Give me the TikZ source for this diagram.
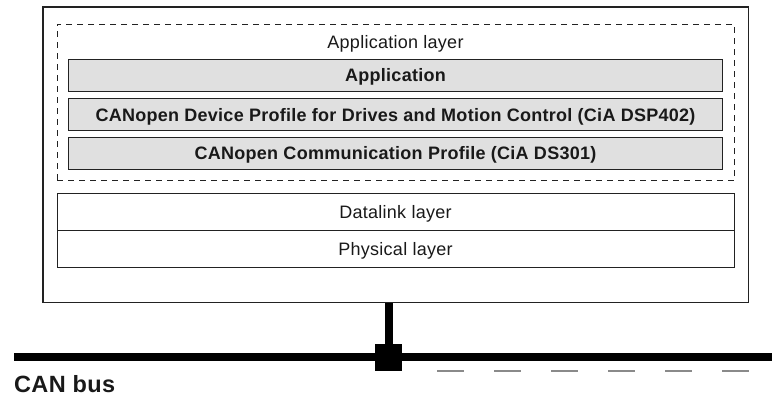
\documentclass[tikz,border=0pt]{standalone}
\usepackage{fontspec}
\setmainfont{Liberation Sans}[LetterSpace=1.5]
\definecolor{boxfill}{HTML}{E0E0E0}
\definecolor{linec}{HTML}{222222}
\definecolor{dashc}{HTML}{8A8A8A}
\begin{document}
\begin{tikzpicture}[x=1pt,y=-1pt,
  txt/.style={font=\fontsize{18pt}{21pt}\selectfont, text height=12.9pt, text depth=0pt, inner sep=0pt, text=black!90},
  outerbox/.style={draw=linec, line width=1.2pt, minimum width=705.5pt, minimum height=295.5pt, inner sep=0pt},
  groupbox/.style={draw=linec, line width=0.9pt, dash pattern=on 6pt off 5pt, minimum width=677.5pt, minimum height=156pt, inner sep=0pt},
  graybox/.style={txt, draw=linec, line width=1pt, fill=boxfill, minimum width=654pt, minimum height=32pt, font=\fontsize{18pt}{21pt}\selectfont\bfseries},
  layerbox/.style={txt, draw=linec, line width=1pt, minimum width=677pt, minimum height=36.8pt},
  bus/.style={line width=8pt, black},
  busdash/.style={line width=1.5pt, dashc}
]
\useasboundingbox (0,0) rectangle (772,396);
\node[outerbox] (outer) at (395.75,154.75) {};
\node[groupbox] (group) at (395.75,102.5) {};
\node[txt] (applayer) at (395.5,41.8) {Application layer};
\node[graybox] (app) at (395.5,75.5) {Application};
\node[graybox] (dsp) at (395.5,114.75) {CANopen Device Profile for Drives and Motion Control (CiA DSP402)};
\node[graybox] (ds) at (395.5,153.5) {CANopen Communication Profile (CiA DS301)};
\node[layerbox] (dl) at (395.5,211.8) {Datalink layer};
\node[layerbox] (ph) at (395.5,248.6) {Physical layer};

\coordinate (busL) at (14,357);
\coordinate (busR) at (772,357);
\node[fill=black, minimum size=27pt, inner sep=0pt] (jn) at (388.5,357) {};
\draw[bus] (busL) -- (busR);
\draw[bus] (outer.south -| jn) -- (jn.center);

\foreach \s in {437,494,551,608,665,722}{
  \draw[busdash] (\s,371) -- ++(27,0);
}
\node[anchor=base west, inner sep=0pt, font=\fontsize{23.5pt}{27pt}\selectfont\bfseries, text=black!90] (canbus) at (14,392) {CAN bus};
\end{tikzpicture}
\end{document}
